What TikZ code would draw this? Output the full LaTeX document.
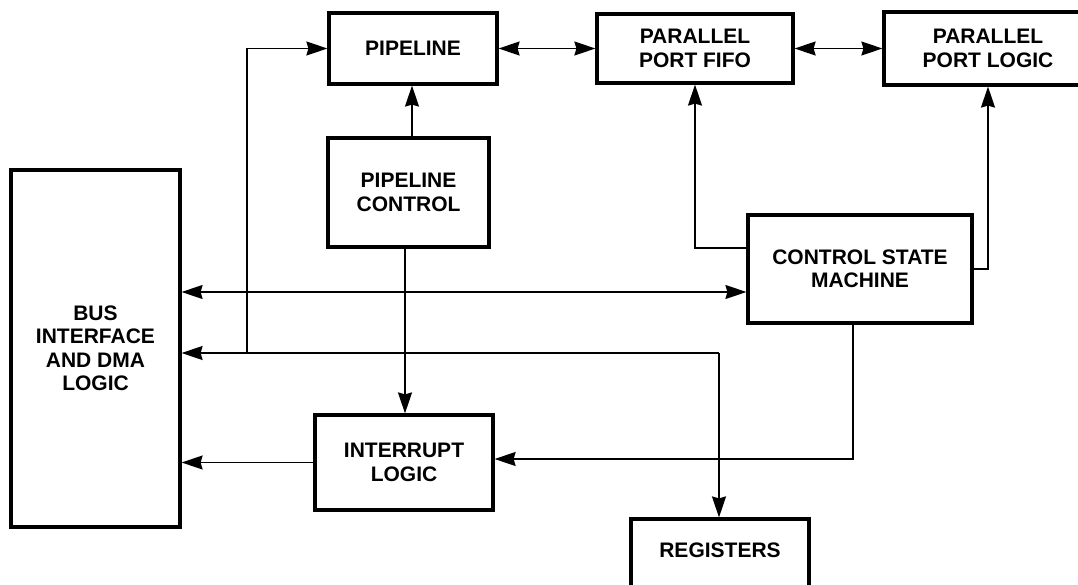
\documentclass[tikz,border=0pt]{standalone}
\usepackage{fontspec}
\setmainfont{Liberation Sans}
\usetikzlibrary{arrows.meta,positioning}

\begin{document}
\begin{tikzpicture}[x=1pt,y=-1pt,
      block_node/.style={
         draw=black,
         line width=3.2pt,
         align=center,
         inner sep=0pt,
         font=\fontsize{21}{23.5}\selectfont\bfseries},
      arrow_black/.style={
        -{Stealth[length=21pt,width=14pt,inset=2pt]},
        line width=1.6pt,
        },
      arrow_both/.style={
        {Stealth[length=21pt,width=14pt,inset=2pt]}-{Stealth[length=21pt,width=14pt,inset=2pt]},
        line width=1.6pt,
        },
      line_plain/.style={
        line width=1.6pt,
        }
]
      \useasboundingbox (0,0) rectangle (1078,584);

      %top row
      \node[block_node,minimum width=168pt,minimum height=71pt] (pipe) at (413,48.5) {PIPELINE};
      \node[block_node,minimum width=196pt,minimum height=69pt] (ppf) at (695,48.5) {PARALLEL\\PORT FIFO};
      \node[block_node,minimum width=208pt,minimum height=73pt] (ppl) at (988,48.5) {PARALLEL\\PORT LOGIC};

      %middle
      \node[block_node,minimum width=161pt,minimum height=109pt] (pc) at (408.5,192.5) {PIPELINE\\CONTROL};
      \node[block_node,minimum width=169pt,minimum height=357pt] (bus) at (95.5,348.5) {BUS\\INTERFACE\\AND DMA\\LOGIC};
      \node[block_node,minimum width=224pt,minimum height=108pt] (csm) at (860,269) {CONTROL STATE\\MACHINE};

      %bottom
      \node[block_node,minimum width=178pt,minimum height=95pt] (il) at (404,462.5) {INTERRUPT\\LOGIC};
      \node[block_node,minimum width=178pt,minimum height=71pt,text depth=9pt] (reg) at (720,554.5) {REGISTERS};

      \coordinate (split) at (247,353);
      \coordinate (tap) at (719,353);
      \coordinate (busline) at (0,292);

    \foreach \i/\j in {% start/end
      pipe.east/ppf.west,
      ppf.east/ppl.west,
      bus.east|-busline/csm.west|-busline}
      \draw [arrow_both] (\i) -- (\j);

      \draw [line_plain] (tap) -- (split);
      \draw [arrow_black] (split) -- (bus.east |- split);
      \draw [arrow_black] (split) |- (pipe.west);
      \draw [arrow_black] (tap) -- (tap |- reg.north);

      \draw [arrow_black] ([xshift=3.5pt]pc.north) -- ([xshift=3.5pt]pc.north |- pipe.south);
      \draw [arrow_black] ([xshift=-3.5pt]pc.south) -- ([xshift=-3.5pt]pc.south |- il.north);

      \draw [arrow_black] ([yshift=21pt]csm.west) -| (ppf.south);
      \draw [arrow_black] (csm.east) -| (ppl.south);
      \draw [arrow_black] ([xshift=-7pt]csm.south) |- ([yshift=3.5pt]il.east);
      \draw [arrow_black] (il.west) -- (bus.east |- il.west);

\end{tikzpicture}
\end{document}
